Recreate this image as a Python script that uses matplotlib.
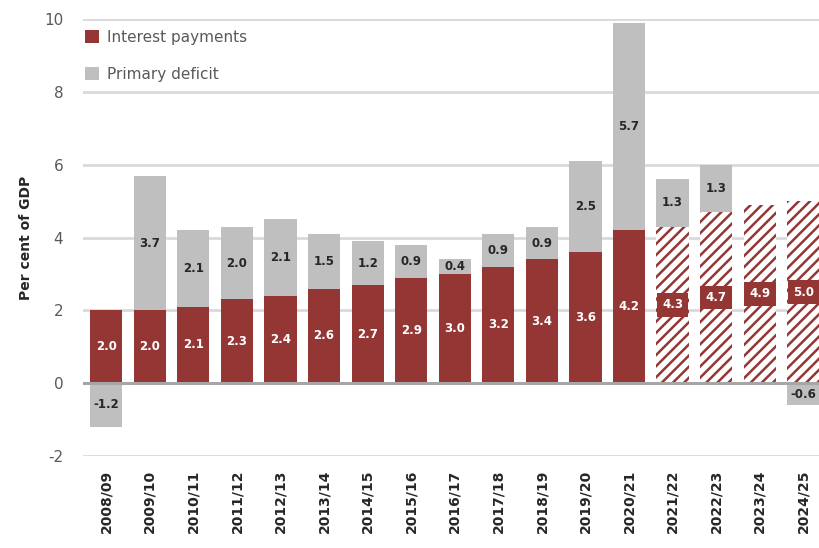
import numpy as np
import matplotlib.pyplot as plt

years = ['2008/09', '2009/10', '2010/11', '2011/12', '2012/13', '2013/14',
         '2014/15', '2015/16', '2016/17', '2017/18', '2018/19', '2019/20',
         '2020/21', '2021/22', '2022/23', '2023/24', '2024/25']
interest = [2.0, 2.0, 2.1, 2.3, 2.4, 2.6, 2.7, 2.9, 3.0, 3.2, 3.4, 3.6,
            4.2, 4.3, 4.7, 4.9, 5.0]
primary_deficit = [-1.2, 3.7, 2.1, 2.0, 2.1, 1.5, 1.2, 0.9, 0.4, 0.9, 0.9,
                   2.5, 5.7, 1.3, 1.3, 0.0, -0.6]
n_outturn = 13  # years after this are projections

red = '#943634'
grey = '#bfbfbf'

plt.rcParams['hatch.linewidth'] = 1.8
plt.rcParams['hatch.color'] = red
plt.rcParams['axes.unicode_minus'] = False

fig = plt.figure(figsize=(8.19, 5.48), dpi=100)
ax = fig.add_axes([0.101, 0.168, 0.899, 0.797])

x = np.arange(len(years))
width = 0.74
interest = np.array(interest)
primary_deficit = np.array(primary_deficit)
# positive deficits sit on top of interest, surpluses hang below zero
bottoms = np.where(primary_deficit >= 0, interest, 0)

ax.bar(x[:n_outturn], interest[:n_outturn], width, color=red, label='Interest payments', zorder=3)
ax.bar(x[n_outturn:], interest[n_outturn:], width, color='white', edgecolor=red,
       hatch='///', linewidth=0, zorder=3)
ax.bar(x, primary_deficit, width, bottom=bottoms, color=grey, label='Primary deficit', zorder=3)

for i in range(len(years)):
    if i < n_outturn:
        ax.text(x[i], interest[i] / 2, f'{interest[i]:.1f}', ha='center', va='center',
                color='white', fontsize=8.5, fontweight='bold', zorder=5)
    else:
        ax.text(x[i], interest[i] / 2, f'{interest[i]:.1f}', ha='center', va='center',
                color='white', fontsize=8.5, fontweight='bold', zorder=5,
                bbox=dict(boxstyle='square,pad=0.45', facecolor=red, edgecolor='none'))
    d = primary_deficit[i]
    if d != 0:
        ax.text(x[i], bottoms[i] + d / 2, f'{d:.1f}', ha='center', va='center',
                color='#262626', fontsize=8.5, fontweight='bold', zorder=5)

ax.set_ylim(-2, 10)
ax.set_xlim(-0.54, 16.36)
ax.set_yticks(np.arange(-2, 11, 2))
ax.yaxis.grid(True, color='#d9d9d9', linewidth=2, zorder=0)
ax.axhline(0, color='#a6a6a6', linewidth=2.2, zorder=4)
ax.set_axisbelow(True)
for s in ax.spines.values():
    s.set_visible(False)

ax.set_xticks(x)
ax.set_xticklabels(years, rotation=90, fontsize=10, fontweight='bold', color='#262626')
ax.tick_params(axis='x', length=0, pad=10)
ax.tick_params(axis='y', length=0, pad=14, labelsize=11, labelcolor='#595959')
ax.set_ylabel('Per cent of GDP', fontsize=10, fontweight='bold', color='#262626', labelpad=8)

ax.legend(loc='upper left', bbox_to_anchor=(-0.005, 0.99), frameon=False, fontsize=11,
          labelcolor='#595959', handlelength=0.9, handleheight=0.9, handletextpad=0.5,
          labelspacing=1.45, borderaxespad=0)

fig.savefig('out.png', dpi=100)
